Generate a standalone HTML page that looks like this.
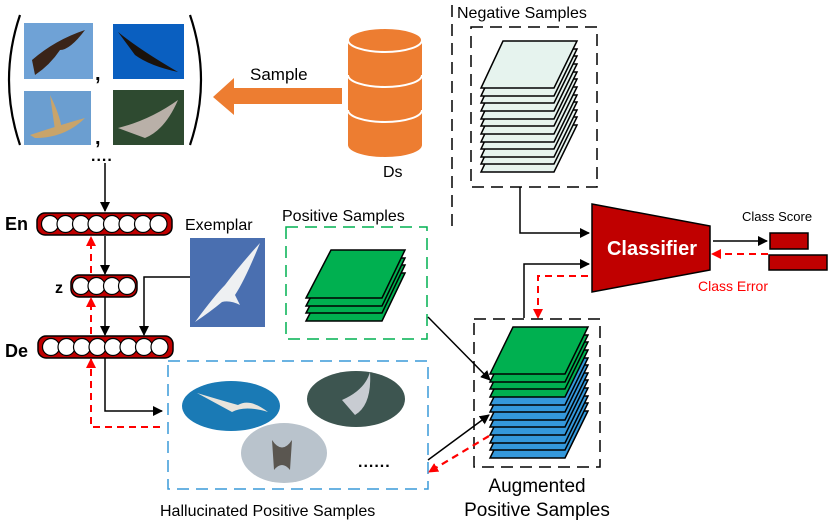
<!DOCTYPE html>
<html><head><meta charset="utf-8"><style>
html,body{margin:0;padding:0;background:#fff;}
svg{display:block;font-family:"Liberation Sans",Arial,sans-serif;}
</style></head><body>
<svg width="831" height="525" viewBox="0 0 831 525" xmlns="http://www.w3.org/2000/svg">
<defs>
<marker id="ab" markerWidth="10" markerHeight="10" refX="9" refY="5" orient="auto" markerUnits="userSpaceOnUse"><path d="M0,0 L10,5 L0,10 z" fill="#000"/></marker>
<marker id="ar" markerWidth="10" markerHeight="10" refX="9" refY="5" orient="auto" markerUnits="userSpaceOnUse"><path d="M0,0 L10,5 L0,10 z" fill="#f00"/></marker>
</defs>

<!-- parentheses -->
<path d="M20,15 Q-2,80 20,145" fill="none" stroke="#000" stroke-width="2.2"/>
<path d="M190,15 Q212,80 190,145" fill="none" stroke="#000" stroke-width="2.2"/>
<!-- images -->
<rect x="24" y="23" width="69" height="56" fill="#6fa2d6"/>
<path d="M32,60 Q55,40 85,30 Q70,50 60,50 Q50,65 35,75 Z" fill="#3a2418"/>
<rect x="113" y="24" width="71" height="55" fill="#0a5fc0"/>
<path d="M118,32 Q140,50 178,72 Q150,66 135,55 Z" fill="#1a120c"/>
<rect x="24" y="91" width="67" height="54" fill="#6b9ed0"/>
<path d="M30,135 Q60,125 85,118 Q65,138 35,138 Z M50,95 Q60,115 62,130 L55,130 Z" fill="#c9a46a"/>
<rect x="113" y="90" width="71" height="55" fill="#2e4a30"/>
<path d="M118,128 Q150,120 178,100 Q165,130 145,138 Z" fill="#b9b0a8"/>
<text x="95" y="80" font-size="20" font-weight="bold">,</text>
<text x="95" y="144" font-size="20" font-weight="bold">,</text>
<text x="91" y="161" font-size="16" font-weight="bold" letter-spacing="1">....</text>
<line x1="105" y1="163" x2="105" y2="211" stroke="#000" stroke-width="1.5" marker-end="url(#ab)"/>

<!-- Sample arrow -->
<path d="M342,88 L234,88 L234,78 L213,97 L234,115 L234,104 L342,104 Z" fill="#ed7d31"/>
<text x="250" y="80" font-size="17">Sample</text>
<!-- cylinder -->
<path d="M348,40 L348,145 A37,12 0 0 0 422,145 L422,40 Z" fill="#ed7d31"/>
<ellipse cx="385" cy="40" rx="37" ry="12" fill="#ed7d31" stroke="#fff" stroke-width="2"/>
<path d="M348,75 A37,12 0 0 0 422,75" fill="none" stroke="#fff" stroke-width="2"/>
<path d="M348,110 A37,12 0 0 0 422,110" fill="none" stroke="#fff" stroke-width="2"/>
<text x="383" y="177" font-size="16">Ds</text>

<!-- Negative samples -->
<line x1="452" y1="5" x2="452" y2="230" stroke="#000" stroke-width="1.5" stroke-dasharray="12,7"/>
<text x="457" y="18" font-size="16">Negative Samples</text>
<rect x="471" y="27" width="126" height="160" fill="none" stroke="#000" stroke-width="1.5" stroke-dasharray="12,7"/>
<g fill="#e6f3ee" stroke="#000" stroke-width="1.5">
<path d="M503,125 L577,125 L554,172 L481,172 Z"/>
<path d="M503,117 L577,117 L554,164 L481,164 Z"/>
<path d="M503,110 L577,110 L554,157 L481,157 Z"/>
<path d="M503,102 L577,102 L554,149 L481,149 Z"/>
<path d="M503,95 L577,95 L554,142 L481,142 Z"/>
<path d="M503,87 L577,87 L554,134 L481,134 Z"/>
<path d="M503,79 L577,79 L554,126 L481,126 Z"/>
<path d="M503,72 L577,72 L554,119 L481,119 Z"/>
<path d="M503,64 L577,64 L554,111 L481,111 Z"/>
<path d="M503,56 L577,56 L554,103 L481,103 Z"/>
<path d="M503,49 L577,49 L554,96 L481,96 Z"/>
<path d="M503,41 L577,41 L554,88 L481,88 Z"/>
</g>
<polyline points="520,187 520,233 589,233" fill="none" stroke="#000" stroke-width="1.5" marker-end="url(#ab)"/>

<!-- classifier -->
<path d="M592,204 L710,226 L710,270 L592,292 Z" fill="#c00000" stroke="#000" stroke-width="1.5"/>
<text x="652" y="255" font-size="20" font-weight="bold" fill="#fff" text-anchor="middle">Classifier</text>
<text x="742" y="221" font-size="13">Class Score</text>
<rect x="770" y="233" width="38" height="16" fill="#c00000" stroke="#000" stroke-width="1.5"/>
<rect x="769" y="255" width="58" height="15" fill="#c00000" stroke="#000" stroke-width="1.5"/>
<line x1="713" y1="241" x2="767" y2="241" stroke="#000" stroke-width="1.5" marker-end="url(#ab)"/>
<line x1="768" y1="254" x2="712" y2="254" stroke="#f00" stroke-width="2" stroke-dasharray="7,5" marker-end="url(#ar)"/>
<text x="698" y="291" font-size="14" fill="#f00">Class Error</text>
<polyline points="524,318 524,264 589,264" fill="none" stroke="#000" stroke-width="1.5" marker-end="url(#ab)"/>
<polyline points="588,276 538,276 538,318" fill="none" stroke="#f00" stroke-width="2" stroke-dasharray="7,5" marker-end="url(#ar)"/>

<!-- augmented -->
<rect x="474" y="319" width="126" height="148" fill="none" stroke="#000" stroke-width="1.5" stroke-dasharray="12,7"/>
<g stroke="#000" stroke-width="1.5">
<g fill="#3498db">
<path d="M513,411 L588,411 L565,458 L490,458 Z"/>
<path d="M513,403 L588,403 L565,450 L490,450 Z"/>
<path d="M513,396 L588,396 L565,443 L490,443 Z"/>
<path d="M513,388 L588,388 L565,435 L490,435 Z"/>
<path d="M513,380 L588,380 L565,427 L490,427 Z"/>
<path d="M513,373 L588,373 L565,420 L490,420 Z"/>
<path d="M513,365 L588,365 L565,412 L490,412 Z"/>
<path d="M513,358 L588,358 L565,405 L490,405 Z"/>
</g>
<g fill="#00b050">
<path d="M513,350 L588,350 L565,397 L490,397 Z"/>
<path d="M513,342 L588,342 L565,389 L490,389 Z"/>
<path d="M513,335 L588,335 L565,382 L490,382 Z"/>
<path d="M513,327 L588,327 L565,374 L490,374 Z"/>
</g>
</g>
<text x="537" y="492" font-size="19" text-anchor="middle">Augmented</text>
<text x="537" y="516" font-size="19" text-anchor="middle">Positive Samples</text>

<!-- positive samples -->
<text x="282" y="221" font-size="16">Positive Samples</text>
<rect x="286" y="227" width="141" height="112" fill="none" stroke="#00b050" stroke-width="1.5" stroke-dasharray="12,7"/>
<g fill="#00b050" stroke="#000" stroke-width="1.5">
<path d="M331,273 L405,273 L382,321 L306,321 Z"/>
<path d="M331,265 L405,265 L382,313 L306,313 Z"/>
<path d="M331,258 L405,258 L382,306 L306,306 Z"/>
<path d="M331,250 L405,250 L382,298 L306,298 Z"/>
</g>
<line x1="428" y1="317" x2="490" y2="380" stroke="#000" stroke-width="1.5" marker-end="url(#ab)"/>

<!-- hallucinated -->
<rect x="168" y="361" width="260" height="128" fill="none" stroke="#3a9ad9" stroke-width="1.5" stroke-dasharray="12,7"/>
<ellipse cx="231" cy="406" rx="49" ry="25" fill="#1a7ab5"/>
<path d="M197,393 Q220,400 238,405 Q250,398 268,412 Q245,405 232,412 Z" fill="#e8e4dc"/>
<ellipse cx="356" cy="399" rx="49" ry="28" fill="#3d5550"/>
<path d="M342,400 Q365,390 370,372 Q372,405 355,415 Z" fill="#c8ccd2"/>
<ellipse cx="284" cy="453" rx="43" ry="30" fill="#b9c3cc"/>
<path d="M272,440 Q282,455 292,440 L290,470 Q282,460 274,470 Z" fill="#5a5650"/>
<text x="358" y="467" font-size="16" font-weight="bold" letter-spacing="1">......</text>
<text x="160" y="516" font-size="16">Hallucinated Positive Samples</text>
<line x1="428" y1="460" x2="489" y2="415" stroke="#000" stroke-width="1.5" marker-end="url(#ab)"/>
<line x1="489" y1="436" x2="429" y2="472" stroke="#f00" stroke-width="2.2" stroke-dasharray="7,5" marker-end="url(#ar)"/>

<!-- En / z / De -->
<text x="5" y="230" font-size="18" font-weight="bold">En</text>
<rect x="37" y="213" width="135" height="22" rx="8" fill="#c00000" stroke="#000" stroke-width="1.5"/>
<g fill="#fff" stroke="#000" stroke-width="1.2">
<circle cx="50" cy="224" r="8.5"/><circle cx="65.5" cy="224" r="8.5"/><circle cx="81" cy="224" r="8.5"/><circle cx="96.5" cy="224" r="8.5"/><circle cx="112" cy="224" r="8.5"/><circle cx="127.5" cy="224" r="8.5"/><circle cx="143" cy="224" r="8.5"/><circle cx="158.5" cy="224" r="8.5"/>
</g>
<text x="55" y="293" font-size="16" font-weight="bold">z</text>
<rect x="71" y="275" width="66" height="22" rx="8" fill="#c00000" stroke="#000" stroke-width="1.5"/>
<g fill="#fff" stroke="#000" stroke-width="1.2">
<circle cx="81" cy="286" r="8.5"/><circle cx="96.5" cy="286" r="8.5"/><circle cx="112" cy="286" r="8.5"/><circle cx="127" cy="286" r="8.5"/>
</g>
<text x="5" y="357" font-size="18" font-weight="bold">De</text>
<rect x="38" y="336" width="135" height="22" rx="8" fill="#c00000" stroke="#000" stroke-width="1.5"/>
<g fill="#fff" stroke="#000" stroke-width="1.2">
<circle cx="51" cy="347" r="8.5"/><circle cx="66.5" cy="347" r="8.5"/><circle cx="82" cy="347" r="8.5"/><circle cx="97.5" cy="347" r="8.5"/><circle cx="113" cy="347" r="8.5"/><circle cx="128.5" cy="347" r="8.5"/><circle cx="144" cy="347" r="8.5"/><circle cx="159.5" cy="347" r="8.5"/>
</g>
<line x1="105" y1="236" x2="105" y2="274" stroke="#000" stroke-width="1.5" marker-end="url(#ab)"/>
<line x1="105" y1="297" x2="105" y2="335" stroke="#000" stroke-width="1.5" marker-end="url(#ab)"/>
<polyline points="190,277 144,277 144,335" fill="none" stroke="#000" stroke-width="1.5" marker-end="url(#ab)"/>
<polyline points="105,358 105,411 162,411" fill="none" stroke="#000" stroke-width="1.5" marker-end="url(#ab)"/>
<polyline points="160,427 91,427 91,359" fill="none" stroke="#f00" stroke-width="2" stroke-dasharray="7,5" marker-end="url(#ar)"/>
<line x1="91" y1="334" x2="91" y2="298" stroke="#f00" stroke-width="2" stroke-dasharray="7,5" marker-end="url(#ar)"/>
<line x1="91" y1="273" x2="91" y2="237" stroke="#f00" stroke-width="2" stroke-dasharray="7,5" marker-end="url(#ar)"/>

<!-- exemplar -->
<text x="185" y="230" font-size="16">Exemplar</text>
<rect x="190" y="238" width="75" height="89" fill="#4a6fb0"/>
<path d="M195,322 Q215,295 225,285 Q240,265 260,243 Q245,280 235,295 L240,305 Q230,300 222,302 Q210,312 195,322 Z" fill="#eef0f2"/>
</svg>
</body></html>
